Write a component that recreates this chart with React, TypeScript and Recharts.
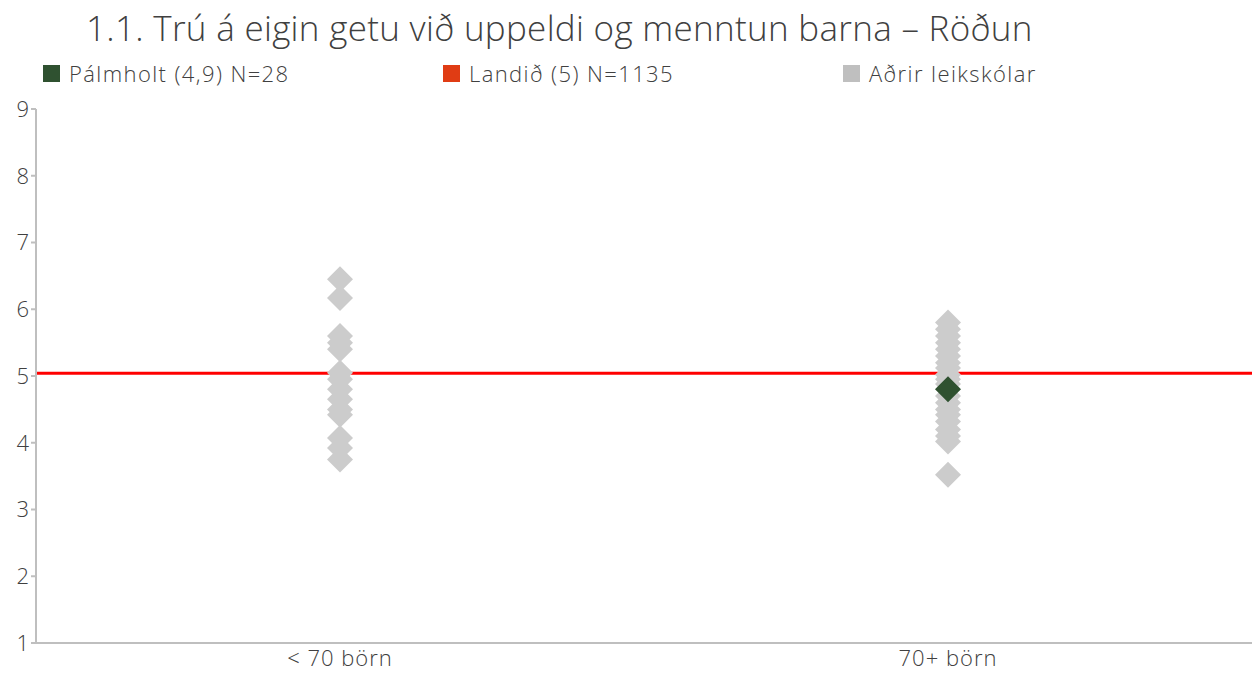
import {
  ScatterChart,
  Scatter,
  XAxis,
  YAxis,
  ReferenceLine,
} from "recharts";

const categories = ["< 70 börn", "70+ börn"];

const otherSmall = [6.45, 6.17, 5.6, 5.5, 5.4, 5.05, 4.95, 4.8, 4.65, 4.5, 4.42, 4.07, 3.92, 3.75];
const otherLarge = [
  5.8, 5.7, 5.6, 5.5, 5.4, 5.3, 5.2, 5.12, 5.02, 4.95, 4.88, 4.7, 4.6, 4.5, 4.42, 4.32, 4.2, 4.1, 4.02, 3.52,
];
const palmholt = [{ cat: "70+ börn", value: 4.8 }];
const landid = 5.04;

const yTicks = [1, 2, 3, 4, 5, 6, 7, 8, 9];

const legendItems = [
  { label: "Pálmholt (4,9) N=28", color: "#2f5130" },
  { label: "Landið (5) N=1135", color: "#e03c14" },
  { label: "Aðrir leikskólar", color: "#bfbfbf" },
];

const others = [
  ...otherSmall.map((value) => ({ cat: categories[0], value })),
  ...otherLarge.map((value) => ({ cat: categories[1], value })),
];

const FONT = "'Open Sans', 'Noto Sans', sans-serif";

const Diamond = (fill: string) => (props: any) => {
  const { cx, cy } = props;
  const r = 13;
  return (
    <path
      d={`M${cx},${cy - r}L${cx + r},${cy}L${cx},${cy + r}L${cx - r},${cy}Z`}
      fill={fill}
    />
  );
};

export default function App() {
  return (
    <div
      style={{
        position: "absolute",
        left: 0,
        top: 0,
        width: 1258,
        height: 673,
        background: "#fff",
        fontFamily: FONT,
        fontWeight: 300,
        color: "#404040",
      }}
    >
      <div
        style={{
          position: "absolute",
          left: 86,
          top: 5,
          fontSize: 35,
          letterSpacing: 0.3,
          lineHeight: "46px",
          whiteSpace: "nowrap",
        }}
      >
        1.1. Trú á eigin getu við uppeldi og menntun barna – Röðun
      </div>
      {legendItems.map((item, i) => (
        <div
          key={item.label}
          style={{
            position: "absolute",
            left: 43 + i * 400,
            top: 59,
            height: 28,
            display: "flex",
            alignItems: "center",
            fontSize: 22,
            letterSpacing: 1.4,
            whiteSpace: "nowrap",
          }}
        >
          <span
            style={{
              display: "inline-block",
              width: 17,
              height: 17,
              background: item.color,
              marginRight: 9,
            }}
          />
          {item.label}
        </div>
      ))}
      <ScatterChart
        width={1258}
        height={673}
        margin={{ top: 109, right: 6, bottom: 0, left: 0 }}
      >
        <XAxis
          type="category"
          dataKey="cat"
          allowDuplicatedCategory={false}
          ticks={categories}
          height={30}
          stroke="#bfbfbf"
          strokeWidth={2}
          tickLine={false}
          tick={{ fill: "#404040", fontSize: 22, fontFamily: FONT, fontWeight: 300, letterSpacing: 1 }}
          tickMargin={1}
        />
        <YAxis
          type="number"
          dataKey="value"
          domain={[1, 9]}
          ticks={yTicks}
          width={36}
          stroke="#bfbfbf"
          strokeWidth={2}
          tickSize={5}
          tick={{ fill: "#404040", fontSize: 22, fontFamily: FONT, fontWeight: 300 }}
          tickMargin={2}
        />
        <ReferenceLine y={landid} stroke="#ff0000" strokeWidth={3} />
        <Scatter
          data={others}
          shape={Diamond("#cccccc")}
          isAnimationActive={false}
        />
        <Scatter
          data={palmholt}
          shape={Diamond("#2f5130")}
          isAnimationActive={false}
        />
      </ScatterChart>
    </div>
  );
}
